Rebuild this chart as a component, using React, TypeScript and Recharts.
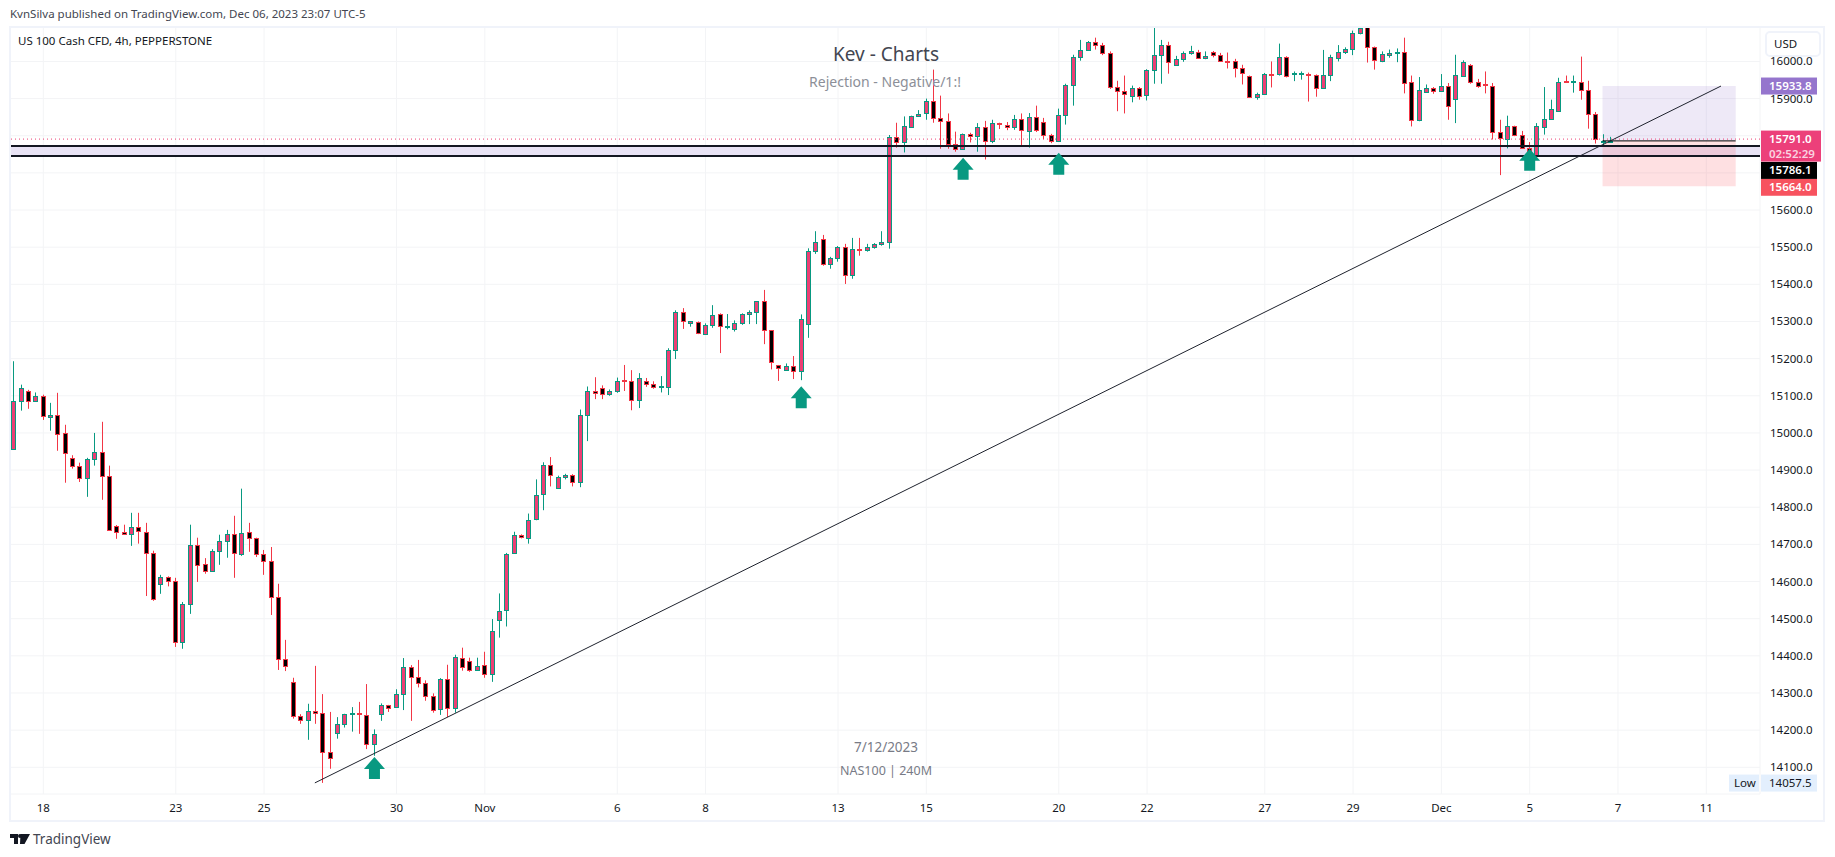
import React from 'react';
import { ComposedChart, Bar, XAxis, YAxis, CartesianGrid, ReferenceLine, ReferenceArea, ReferenceDot } from 'recharts';

const FONT = '"Noto Sans", sans-serif';
const UP_FILL = '#EC3F74';
const UP_EDGE = '#089981';
const DOWN_FILL = '#000000';
const DOWN_EDGE = '#F23645';

const opens = [
  14958,15085,15112,15087,15099,15044,15048,15000,14932,14911,
  14878,14929,14948,14884,14749,14733,14728,14746,14733,14676,
  14593,14612,14601,14437,14539,14698,14647,14628,14682,14709,
  14728,14674,14733,14717,14674,14655,14558,14391,14329,14237,
  14227,14251,14245,14140,14191,14216,14243,14245,14240,14162,
  14243,14267,14262,14297,14369,14342,14326,14291,14256,14337,
  14259,14394,14386,14361,14375,14350,14497,14524,14677,14726,
  14717,14768,14836,14915,14853,14882,14888,14868,15047,15112,
  15120,15106,15114,15142,15141,15090,15139,15133,15123,15125,
  15222,15325,15297,15298,15266,15290,15319,15285,15279,15295,
  15319,15325,15354,15276,15182,15170,15179,15166,15294,15489,
  15522,15454,15470,15500,15425,15495,15492,15500,15508,15514,
  15797,15782,15823,15852,15860,15894,15848,15840,15777,15764,
  15805,15799,15824,15785,15834,15829,15823,15845,15813,15851,
  15837,15802,15786,15855,15937,16012,16031,16053,16044,16023,
  15931,15921,15907,15929,15909,15976,16018,16044,15991,16007,
  16022,16026,16009,16026,16018,16002,16001,15983,15961,15904,
  15912,15966,15966,16012,15966,15966,15966,15963,15929,15963,
  16009,16026,16033,16076,16092,16039,16000,16017,16023,16026,
  15944,15843,15918,15929,15921,15934,15899,15962,15991,15944,
  15938,15934,15810,15791,15826,15802,15766,15746,15824,15845,
  15867,15946,15944,15944,15923,15859,15784,15785,
];
const highs = [
  15193,15130,15116,15109,15103,15081,15108,15022,14940,14920,
  14933,15000,15030,14912,14752,14753,14785,14785,14758,14683,
  14618,14614,14610,14545,14753,14718,14663,14687,14726,14739,
  14777,14850,14758,14718,14685,14693,14594,14443,14341,14243,
  14271,14373,14297,14249,14235,14244,14262,14276,14324,14202,
  14272,14268,14310,14394,14375,14389,14334,14299,14340,14376,
  14403,14422,14395,14395,14411,14499,14568,14677,14734,14727,
  14783,14875,14921,14935,14885,14890,14889,15063,15125,15150,
  15128,15117,15149,15183,15169,15161,15148,15139,15153,15228,
  15330,15336,15301,15300,15295,15344,15322,15320,15303,15322,
  15330,15355,15385,15277,15183,15187,15207,15319,15497,15543,
  15533,15474,15503,15509,15525,15525,15509,15511,15543,15802,
  15835,15852,15854,15869,15900,15978,15908,15860,15811,15806,
  15808,15834,15840,15843,15835,15837,15856,15860,15861,15881,
  15848,15805,15873,15940,16018,16058,16055,16064,16050,16027,
  15948,15962,15935,15931,15979,16092,16058,16053,16015,16027,
  16042,16031,16027,16028,16023,16024,16007,15991,15962,15916,
  15969,16000,16048,16014,15973,15973,15970,15965,16031,16018,
  16044,16038,16083,16092,16092,16040,16027,16032,16035,16064,
  15962,15958,15938,15931,15966,15942,16018,16003,15993,15953,
  15973,15942,15843,15854,15827,15813,15783,15834,15931,15897,
  15956,15962,15962,16013,15948,15864,15804,15797,
];
const lows = [
  14955,15060,15065,15084,15035,15006,14952,14866,14904,14868,
  14828,14912,14820,14737,14715,14726,14696,14702,14561,14548,
  14567,14587,14424,14419,14513,14599,14621,14627,14645,14664,
  14610,14669,14680,14666,14618,14510,14362,14359,14231,14217,
  14174,14217,14058,14096,14177,14207,14196,14190,14149,14131,
  14225,14249,14260,14254,14225,14315,14279,14247,14241,14235,
  14247,14360,14357,14360,14341,14330,14449,14479,14676,14716,
  14702,14765,14792,14856,14852,14875,14856,14854,14978,15091,
  15091,15100,15108,15113,15061,15067,15124,15119,15109,15102,
  15199,15280,15286,15266,15264,15283,15215,15279,15273,15291,
  15293,15293,15239,15171,15140,15168,15145,15142,15256,15482,
  15450,15442,15461,15401,15415,15477,15488,15496,15504,15496,
  15768,15755,15822,15851,15843,15835,15765,15765,15757,15763,
  15782,15757,15736,15780,15818,15815,15816,15771,15768,15810,
  15791,15780,15785,15830,15881,16002,16029,16032,16017,15926,
  15866,15860,15890,15897,15895,15940,15940,15967,15990,15999,
  16018,16008,16006,16011,15999,15981,15957,15938,15903,15897,
  15911,15930,15962,15957,15947,15951,15892,15905,15927,15947,
  16000,16020,16017,16073,15997,15978,15998,16010,15998,15914,
  15825,15839,15916,15913,15918,15843,15834,15960,15940,15929,
  15914,15790,15694,15766,15799,15765,15732,15745,15803,15843,
  15866,15942,15916,15897,15819,15779,15775,15781,
];
const closes = [
  15086,15121,15085,15099,15045,15048,14996,14946,14911,14878,
  14930,14948,14884,14740,14733,14728,14746,14736,14676,14554,
  14612,14601,14437,14539,14698,14644,14628,14682,14709,14728,
  14676,14730,14717,14674,14655,14558,14391,14372,14237,14227,
  14251,14245,14140,14124,14216,14243,14245,14244,14162,14189,
  14267,14259,14297,14369,14342,14326,14291,14253,14337,14259,
  14396,14369,14362,14372,14351,14467,14521,14675,14726,14720,
  14766,14834,14915,14888,14882,14888,14869,15047,15112,15108,
  15106,15114,15141,15140,15090,15147,15133,15125,15126,15222,
  15325,15300,15300,15268,15290,15317,15287,15288,15295,15319,
  15325,15354,15276,15190,15174,15179,15166,15306,15489,15514,
  15454,15470,15500,15425,15495,15492,15500,15508,15514,15797,
  15782,15825,15853,15859,15894,15848,15840,15778,15765,15805,
  15800,15824,15786,15834,15832,15824,15845,15816,15851,15815,
  15802,15786,15856,15937,16012,16031,16053,16044,16023,15931,
  15921,15913,15929,15907,15977,16018,16044,15999,16007,16023,
  16027,16009,16015,16018,16001,16000,15983,15969,15904,15913,
  15966,15964,16012,15961,15968,15968,15963,15929,15964,16012,
  16026,16034,16077,16090,16039,16004,16020,16023,16026,15942,
  15843,15923,15929,15921,15934,15880,15964,15999,15944,15934,
  15936,15810,15793,15826,15802,15767,15744,15826,15845,15872,
  15944,15944,15946,15923,15859,15791,15786,15786,
];

const timeTicks = [4, 22, 34, 52, 64, 82, 94, 112, 124, 142, 154, 170, 182, 194, 206, 218, 230];
const timeLabels = ['18', '23', '25', '30', 'Nov', '6', '8', '13', '15', '20', '22', '27', '29', 'Dec', '5', '7', '11'];
const priceTicks = [14100, 14200, 14300, 14400, 14500, 14600, 14700, 14800, 14900, 15000, 15100, 15200, 15300, 15400, 15500, 15600, 15700, 15800, 15900, 16000];
// these two sit behind the price tags in the original
const coveredTicks = [15700, 15800];

const arrowBars = [49, 107, 129, 142, 206];
const arrowPrices = [14128, 15126, 15741, 15754, 15765];

const bars = opens.map((open, i) => ({ i, open, high: highs[i], low: lows[i], close: closes[i] }));

function Candle({ x, y, width, height, payload }: any) {
  const { open, high, low, close } = payload;
  const up = close >= open;
  const perPoint = height / Math.max(high - low, 1);
  const top = Math.round(y + (high - Math.max(open, close)) * perPoint) + 0.5;
  const bottom = Math.round(y + (high - Math.min(open, close)) * perPoint) + 0.5;
  const mid = Math.round(x + width / 2 - 0.5) + 0.5;
  const edge = up ? UP_EDGE : DOWN_EDGE;
  return (
    <g>
      <line x1={mid} x2={mid} y1={y} y2={y + height} stroke={edge} strokeWidth={1} />
      <rect x={mid - 2} y={top} width={4} height={Math.max(bottom - top, 1)} fill={up ? UP_FILL : DOWN_FILL} stroke={edge} strokeWidth={1} />
    </g>
  );
}

function Arrow({ cx, cy }: any) {
  const pts = [[0, 0], [10.5, 12], [5.5, 12], [5.5, 22], [-5.5, 22], [-5.5, 12], [-10.5, 12]];
  return <polygon points={pts.map(p => `${cx + p[0]},${cy + p[1]}`).join(' ')} fill={UP_EDGE} />;
}

function PriceTick({ x, y, payload }: any) {
  if (coveredTicks.includes(payload.value)) return <g />;
  return (
    <text x={x} y={y} dy={4} fill="#131722" fontSize={11.5} fontFamily={FONT}>
      {payload.value.toFixed(1)}
    </text>
  );
}

function priceTag(text: string, bg: string, color: string, shift = 0, second?: string) {
  return (props: any) => {
    const v = props.viewBox;
    const left = v.x + v.width + 1;
    const cy = v.y + shift;
    return (
      <g fontFamily={FONT} fontSize={11.5} fontWeight={600}>
        <rect x={left} y={cy - 8.5} width={second ? 60 : 56} height={second ? 31 : 17} fill={bg} />
        <text x={left + 8} y={cy + 4} fill={color}>{text}</text>
        {second ? <text x={left + 8} y={cy + 19} fill="#FAD3E0">{second}</text> : null}
      </g>
    );
  };
}

function lowTag(props: any) {
  const v = props.viewBox;
  const left = v.x + v.width;
  const cy = v.y;
  return (
    <g fontFamily={FONT} fontSize={11.5} fill="#131722">
      <rect x={left - 31} y={cy - 8.5} width={30} height={17} fill="#E3EFFD" />
      <rect x={left + 1} y={cy - 8.5} width={56} height={17} fill="#E3EFFD" />
      <text x={left - 26} y={cy + 4}>Low</text>
      <text x={left + 9} y={cy + 4}>14057.5</text>
    </g>
  );
}

function Note({ top, left, size, color, center, children }: any) {
  return (
    <div style={{
      position: 'absolute', top, left: center ? left - 200 : left, width: center ? 400 : undefined,
      textAlign: center ? 'center' : 'left', fontFamily: FONT, fontSize: size, color,
      lineHeight: '16px', whiteSpace: 'nowrap',
    }}>
      {children}
    </div>
  );
}

export default function App() {
  return (
    <div style={{ position: 'absolute', left: 0, top: 0, width: 1835, height: 857, background: '#fff', overflow: 'hidden' }}>
      <ComposedChart
        width={1835}
        height={857}
        data={bars}
        margin={{ top: 27, left: 10, right: 10, bottom: 35 }}
      >
        <CartesianGrid stroke="#F3F4F6" />
        <XAxis
          dataKey="i"
          type="number"
          domain={[-0.53, 237.3]}
          ticks={timeTicks}
          interval={0}
          height={28}
          axisLine={false}
          tickLine={false}
          tickMargin={4}
          tick={{ fill: '#131722', fontSize: 11.5, fontFamily: FONT }}
          tickFormatter={(v: number) => timeLabels[timeTicks.indexOf(v)]}
        />
        <YAxis
          orientation="right"
          domain={[14028.1, 16092.7]}
          ticks={priceTicks}
          interval={0}
          width={65}
          axisLine={false}
          tickLine={false}
          tickMargin={4}
          tick={PriceTick}
        />

        <ReferenceArea y1={15745.5} y2={15772.4} fill="#E8E3F5" fillOpacity={1} stroke="none" />
        <ReferenceArea x1={215.9} x2={234} y1={15786.1} y2={15933.8} fill="#9575CD" fillOpacity={0.16} stroke="none" />
        <ReferenceArea x1={215.9} x2={234} y1={15664} y2={15786.1} fill="#F7525F" fillOpacity={0.18} stroke="none" />
        <ReferenceLine y={15772.4} stroke="#131722" strokeWidth={2} />
        <ReferenceLine y={15745.5} stroke="#131722" strokeWidth={2} />
        <ReferenceLine y={15791} stroke="#EC3F74" strokeDasharray="1 3" strokeWidth={1} />
        {arrowBars.map((b, i) => (
          <ReferenceDot key={b} x={b} y={arrowPrices[i]} shape={Arrow} />
        ))}

        <Bar dataKey={(d: any) => [d.low, d.high]} barSize={5} shape={Candle} isAnimationActive={false} />

        <ReferenceLine segment={[{ x: 215.9, y: 15786.1 }, { x: 234, y: 15786.1 }]} stroke="#000" strokeWidth={1} />
        <ReferenceLine segment={[{ x: 40.9, y: 14058 }, { x: 232, y: 15933.8 }]} stroke="#1E222D" strokeWidth={1} />

        <ReferenceLine y={15933.8} stroke="none" label={priceTag('15933.8', '#9575CD', '#fff')} />
        <ReferenceLine y={15664} stroke="none" label={priceTag('15664.0', '#F7525F', '#fff', 1)} />
        <ReferenceLine y={15786.1} stroke="none" label={priceTag('15786.1', '#000', '#fff', 29.5)} />
        <ReferenceLine y={15791} stroke="none" label={priceTag('15791.0', '#EC407A', '#fff', 0, '02:52:29')} />
        <ReferenceLine y={14057.5} stroke="none" label={lowTag} />
      </ComposedChart>

      <div style={{ position: 'absolute', left: 9, top: 26, width: 1816, height: 796, boxSizing: 'border-box', border: '2px solid #F0F3FA', pointerEvents: 'none' }} />
      <div style={{
        position: 'absolute', left: 1765, top: 31, width: 56, height: 26, boxSizing: 'border-box', background: '#fff',
        border: '2px solid #F0F3FA', borderRadius: 5, fontFamily: FONT, fontSize: 11.5, color: '#131722', lineHeight: '22px', paddingLeft: 7,
      }}>USD</div>

      <Note top={6} left={10} size={11.5} color="#434651">KvnSilva published on TradingView.com, Dec 06, 2023 23:07 UTC-5</Note>
      <Note top={33} left={18} size={11.5} color="#131722">US 100 Cash CFD, 4h, PEPPERSTONE</Note>
      <Note top={46} left={886} size={19} color="#434651" center>Kev - Charts</Note>
      <Note top={74} left={885} size={14} color="#8C8F98" center>Rejection - Negative/1:!</Note>
      <Note top={739} left={886} size={13.5} color="#787B86" center>7/12/2023</Note>
      <Note top={763} left={886} size={12.5} color="#787B86" center>NAS100 | 240M</Note>

      <svg style={{ position: 'absolute', left: 10, top: 834 }} width={20} height={10} viewBox="0 0 20 10">
        <path d="M0 0H8V10H4V4H0Z M10.5 0H20L14.5 10H10Z" fill="#131722" />
        <circle cx={10} cy={2} r={2} fill="#131722" />
      </svg>
      <Note top={831} left={33} size={13.5} color="#434651">TradingView</Note>
    </div>
  );
}
